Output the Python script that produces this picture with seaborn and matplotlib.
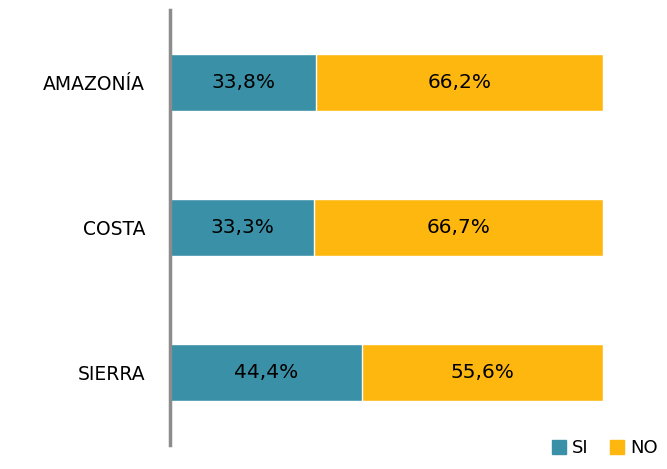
import matplotlib
matplotlib.use("Agg")
import matplotlib.pyplot as plt
from matplotlib.patches import Patch
import pandas as pd
import seaborn as sns

# Datos por región
regiones = ["AMAZONÍA", "COSTA", "SIERRA"]
si = [33.8, 33.3, 44.4]
no = [66.2, 66.7, 55.6]

color_si = "#3A90A7"
color_no = "#FDB70F"

sns.set_style("white")
plt.rcParams['font.family'] = ['DejaVu Sans']

df = pd.DataFrame({"region": regiones, "SI": si, "NO": no})
df["total"] = df["SI"] + df["NO"]

fig = plt.figure(figsize=(6.67, 4.69), dpi=100)
ax = fig.add_axes([170 / 667, 1 - 445 / 469, 433 / 667, 435 / 469])

# barras apiladas: primero el total (NO), luego SI encima
sns.barplot(data=df, y="region", x="total", color=color_no, orient="h",
            width=0.39, saturation=1, ax=ax)
sns.barplot(data=df, y="region", x="SI", color=color_si, orient="h",
            width=0.39, saturation=1, ax=ax)

for i, (s, n) in enumerate(zip(si, no)):
    ax.text(s / 2, i, f"{s:.1f}%".replace(".", ","), ha="center", va="center",
            fontsize=14.5, color="black")
    ax.text(s + n / 2, i, f"{n:.1f}%".replace(".", ","), ha="center", va="center",
            fontsize=14.5, color="black")

ax.set_xlim(0, 100)
ax.set_ylim(2.5, -0.5)
ax.set_xlabel("")
ax.set_ylabel("")
ax.set_xticks([])
ax.tick_params(axis="y", length=0, labelsize=13.5, pad=18, labelcolor="black")
for lado in ["top", "right", "bottom"]:
    ax.spines[lado].set_visible(False)
ax.spines["left"].set_color("#8C8C8C")
ax.spines["left"].set_linewidth(2.5)

handles = [Patch(color=color_si, label="SI"), Patch(color=color_no, label="NO")]
fig.legend(handles=handles, loc="lower right", bbox_to_anchor=(1.01, -0.01), ncol=2,
           frameon=False, fontsize=13, handlelength=0.8, handleheight=0.8,
           handletextpad=0.3, columnspacing=1.2, labelcolor="black")

plt.savefig("out.png", dpi=100)
